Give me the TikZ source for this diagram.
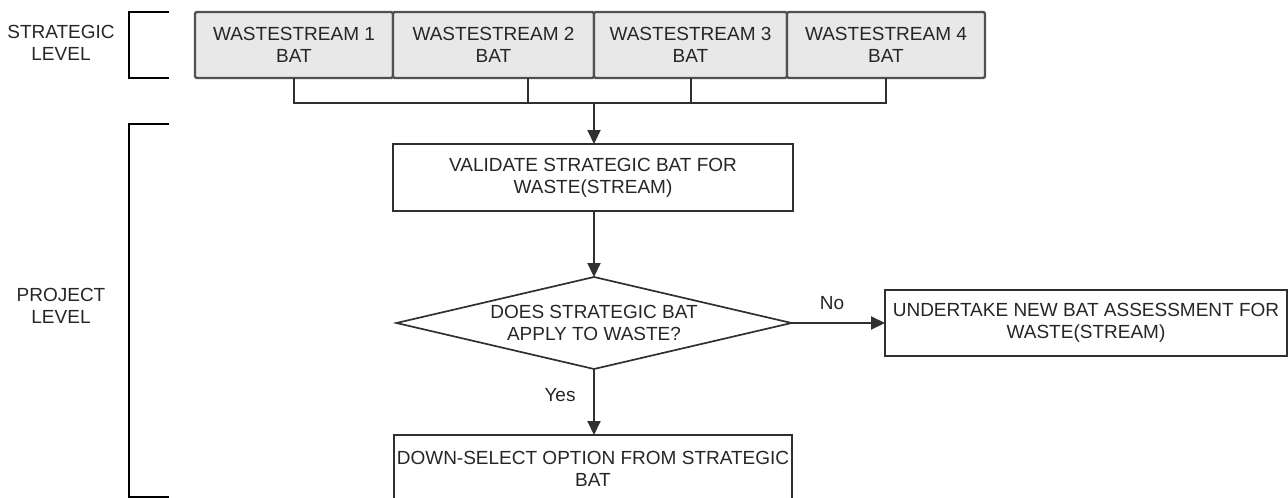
\documentclass[tikz,border=0pt]{standalone}
\usepackage{fontspec}
\setmainfont{Liberation Sans}
\usetikzlibrary{shapes.geometric,arrows.meta}
\definecolor{edge}{HTML}{303030}
\definecolor{boxgray}{HTML}{505050}
\definecolor{wsfill}{HTML}{E8E8E8}
\definecolor{txt}{HTML}{262626}
\begin{document}
\begin{tikzpicture}[x=1pt,y=-1pt,
  every node/.style={font=\fontsize{19}{22}\selectfont, text=txt, align=center,
                     inner sep=0pt, outer sep=0pt},
  wsbox/.style={draw=boxgray, line width=2.2pt, fill=wsfill, rounded corners=1.5pt,
                minimum height=66pt},
  procbox/.style={draw=edge, line width=2pt, fill=white, minimum height=67pt},
  decision/.style={diamond, draw=edge, line width=1.7pt, aspect=4.3,
                   minimum width=395pt, minimum height=92pt},
  conn/.style={draw=edge, line width=2pt},
  arrowconn/.style={conn, -{Triangle[length=14pt,width=13pt]}},
  bracket/.style={draw=black, line width=2.4pt},
  lbl/.style={}]
\useasboundingbox (0,0) rectangle (1288,498);

% level labels and their brackets
\node[lbl] (strat) at (61,43) {STRATEGIC\\LEVEL};
\node[lbl] (proj)  at (61,306) {PROJECT\\LEVEL};
\draw[bracket] (169,12) -- (129,12) -- (129,78) -- (169,78);
\draw[bracket] (169,124) -- (129,124) -- (129,497) -- (169,497);

% strategic BAT per waste stream
\node[wsbox, minimum width=198pt] (ws1) at (294,45)   {WASTESTREAM 1\\BAT};
\node[wsbox, minimum width=201pt] (ws2) at (493.5,45) {WASTESTREAM 2\\BAT};
\node[wsbox, minimum width=193pt] (ws3) at (690.5,45) {WASTESTREAM 3\\BAT};
\node[wsbox, minimum width=198pt] (ws4) at (886,45)   {WASTESTREAM 4\\BAT};

% project level flow
\node[procbox, minimum width=400pt] (val) at (593,177.5)
  {VALIDATE STRATEGIC BAT FOR\\WASTE(STREAM)};
\node[decision] (dec) at (594,323) {DOES STRATEGIC BAT\\APPLY TO WASTE?};
\node[procbox, minimum width=402pt, minimum height=66pt] (new) at (1086,323)
  {UNDERTAKE NEW BAT ASSESSMENT FOR\\WASTE(STREAM)};
\node[procbox, minimum width=398pt] (sel) at (593,468.5)
  {DOWN-SELECT OPTION FROM STRATEGIC\\BAT};

% collector line from the four waste streams
\coordinate (j) at (594,103);
\coordinate (w2) at ([xshift=34.5pt]ws2.south);
\draw[conn] (ws1.south) -- (ws1.south |- j) -- (ws4.south |- j) -- (ws4.south);
\draw[conn] (w2) -- (w2 |- j);
\draw[conn] (ws3.south) -- (ws3.south |- j);
\draw[arrowconn] (j) -- (val.north -| j);

\draw[arrowconn] (val.south -| dec.north) -- (dec.north);
\draw[arrowconn] (dec.east) -- (new.west);
\draw[arrowconn] (dec.south) -- (sel.north -| dec.south);

\node (no)  at (832,303) {No};
\node (yes) at (560,395) {Yes};
\end{tikzpicture}
\end{document}
